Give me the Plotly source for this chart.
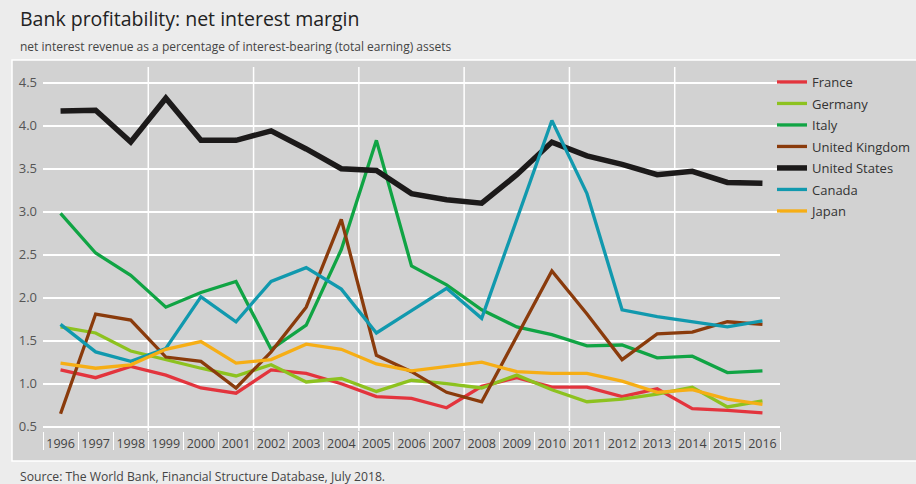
import plotly.graph_objects as go

years = list(range(1996, 2017))

france = [1.16, 1.07, 1.20, 1.10, 0.95, 0.89, 1.16, 1.12, 1.00, 0.85, 0.83, 0.72, 0.97, 1.07,
          0.96, 0.96, 0.85, 0.94, 0.71, 0.69, 0.66]
germany = [1.66, 1.59, 1.38, 1.28, 1.18, 1.09, 1.22, 1.02, 1.06, 0.91, 1.04, 1.00, 0.95, 1.10,
           0.93, 0.79, 0.82, 0.88, 0.96, 0.73, 0.80]
italy = [2.98, 2.52, 2.26, 1.89, 2.06, 2.19, 1.40, 1.68, 2.56, 3.83, 2.37, 2.15, 1.86, 1.66,
         1.57, 1.44, 1.45, 1.30, 1.32, 1.13, 1.15]
united_kingdom = [0.65, 1.81, 1.74, 1.31, 1.26, 0.95, 1.37, 1.89, 2.91, 1.33, 1.14, 0.90, 0.79,
                  1.55, 2.31, 1.81, 1.28, 1.58, 1.60, 1.72, 1.69]
united_states = [4.17, 4.18, 3.81, 4.32, 3.83, 3.83, 3.94, 3.73, 3.50, 3.48, 3.21, 3.14, 3.10,
                 3.43, 3.81, 3.65, 3.55, 3.43, 3.47, 3.34, 3.33]
canada = [1.69, 1.37, 1.26, 1.41, 2.01, 1.72, 2.19, 2.35, 2.10, 1.59, 1.85, 2.11, 1.76, 2.91,
          4.06, 3.21, 1.86, 1.78, 1.72, 1.66, 1.73]
japan = [1.24, 1.18, 1.22, 1.40, 1.49, 1.24, 1.28, 1.46, 1.40, 1.23, 1.15, 1.20, 1.25, 1.14,
         1.12, 1.12, 1.03, 0.90, 0.93, 0.82, 0.76]

series = [
    ("France", france, "#e3343d", 3.3),
    ("Germany", germany, "#8dc21f", 3.3),
    ("Italy", italy, "#10a444", 3.3),
    ("United Kingdom", united_kingdom, "#8a3b0c", 3.3),
    ("United States", united_states, "#1c1a1a", 5.5),
    ("Canada", canada, "#1199ae", 3.3),
    ("Japan", japan, "#f6ae15", 3.3),
]

y_ticks = [0.5, 1.0, 1.5, 2.0, 2.5, 3.0, 3.5, 4.0, 4.5]
grid_years = [1998.5, 2001.5, 2004.5, 2007.5, 2010.5, 2013.5]

FONT = "Open Sans"

fig = go.Figure()
for i, (name, vals, color, width) in enumerate(series):
    fig.add_trace(go.Scatter(
        x=years, y=vals, mode="lines", name=name, legendgroup=str(i),
        line=dict(color=color, width=width),
    ))

# plot-area geometry in pixels (used to place paper-referenced items)
W, H = 916, 484
L, R, T, B = 43, 136, 67, 53
PW, PH = W - L - R, H - T - B


def px(x):
    return (x - L) / PW


def py(y):
    return (H - B - y) / PH


shapes = [
    # grey panel behind the chart
    dict(type="rect", xref="paper", yref="paper", x0=px(12), x1=px(917), y0=py(461), y1=py(60),
         fillcolor="#d2d2d2", line=dict(color="white", width=1.5), layer="below"),
]
for g in grid_years:
    shapes.append(dict(type="line", xref="x", yref="paper", x0=g, x1=g, y0=0, y1=1,
                       line=dict(color="white", width=1.5), layer="below"))

annotations = [
    dict(text="Bank profitability: net interest margin", xref="paper", yref="paper",
         x=px(18), y=py(18), xanchor="left", yanchor="middle", showarrow=False,
         font=dict(family=FONT, size=19.5, color="#222222")),
    dict(text="net interest revenue as a percentage of interest-bearing (total earning) assets",
         xref="paper", yref="paper", x=px(18), y=py(47), xanchor="left", yanchor="middle",
         showarrow=False, font=dict(family=FONT, size=12, color="#444444")),
    dict(text="Source: The World Bank, Financial Structure Database, July 2018.",
         xref="paper", yref="paper", x=px(18), y=py(476), xanchor="left", yanchor="middle",
         showarrow=False, font=dict(family=FONT, size=12.2, color="#444444")),
]

half_years = [y - 0.5 for y in years] + [years[-1] + 0.5]

fig.update_layout(
    width=W, height=H,
    margin=dict(l=L, r=R, t=T, b=B, autoexpand=False),
    paper_bgcolor="#ececec",
    plot_bgcolor="rgba(0,0,0,0)",
    font=dict(family=FONT, color="#444444"),
    shapes=shapes,
    annotations=annotations,
    showlegend=True,
    legend=dict(
        x=px(772), y=py(67), xanchor="left", yanchor="top",
        bgcolor="rgba(0,0,0,0)", borderwidth=0,
        font=dict(family=FONT, size=13, color="#333333"),
        tracegroupgap=1.6, traceorder="grouped",
    ),
    xaxis=dict(
        range=[1995.5, 2016.5], tickmode="array", tickvals=years,
        ticktext=[str(y) for y in years], ticks="", showgrid=False, zeroline=False,
        showline=False, tickfont=dict(size=12.5, color="#444444"), ticklabelstandoff=3,
        minor=dict(tickmode="array", tickvals=half_years, ticks="outside", ticklen=18,
                   tickcolor="white", tickwidth=1.3, showgrid=False),
    ),
    yaxis=dict(
        range=[0.45, 4.683], tickmode="array", tickvals=y_ticks,
        ticktext=[f"{v:.1f}" for v in y_ticks], ticks="", showgrid=True,
        gridcolor="white", gridwidth=1.5, zeroline=False, showline=False,
        tickfont=dict(size=13, color="#555555"), ticklabelstandoff=5,
    ),
)

fig.write_html("out.html")
